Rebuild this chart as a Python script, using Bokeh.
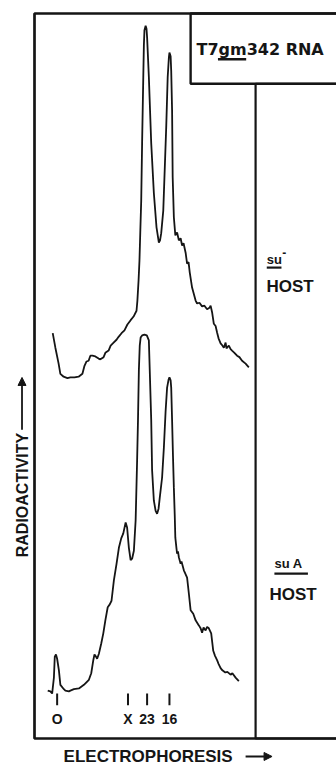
import math
from bokeh.plotting import figure
from bokeh.models import Range1d, Label, BoxAnnotation, Arrow, NormalHead, ColumnDataSource
from bokeh.embed import file_html
from bokeh.resources import INLINE

# ---------------- data (arbitrary units) ----------------
# su- host trace: electrophoretic distance vs radioactivity
su_minus_x = [6.2, 7.1, 8.2, 8.8, 9.9, 11.2, 12.2, 13.6, 15.0, 16.3, 17.0, 17.7, 18.4, 19.0, 19.7,
              20.7, 21.8, 22.4, 23.5, 24.1, 25.2, 25.9, 26.9, 27.9, 28.6, 29.6, 30.6, 31.6, 32.7,
              33.7, 34.7, 35.0, 35.4, 35.7, 36.0, 36.3, 36.6, 37.0, 37.2, 37.4, 37.8, 38.1, 38.3,
              38.9, 39.7, 40.6, 41.5, 42.3, 42.7, 43.1, 43.8, 44.2, 44.8, 45.3, 45.7, 45.9, 46.3,
              46.5, 46.8, 47.0, 47.4, 47.9, 48.5, 49.1, 49.7, 50.2, 50.7, 51.4, 51.9, 52.4, 52.8,
              53.6, 54.8, 55.3, 56.1, 57.0, 57.8, 58.7, 59.5, 59.9, 60.4, 61.0, 61.6, 62.1, 62.6,
              63.3, 63.9, 64.4, 65.0, 65.3, 66.1, 66.7, 67.2, 68.0, 68.9, 69.7, 70.6, 71.8, 72.9]
su_minus_y = [55.9, 53.9, 51.7, 50.3, 49.9, 49.7, 49.8, 49.8, 49.9, 50.3, 51.4, 52.0, 52.1, 52.8, 52.8,
              52.7, 52.4, 52.3, 52.6, 53.2, 53.5, 54.2, 54.6, 55.0, 55.4, 55.9, 56.3, 57.1, 57.7,
              58.2, 59.0, 60.4, 63.2, 65.9, 70.1, 74.2, 82.1, 91.2, 95.6, 97.7, 98.3, 97.9, 96.7,
              91.2, 82.1, 75.2, 70.5, 68.4, 68.7, 69.7, 72.8, 77.4, 84.3, 91.2, 93.9, 94.6, 94.1,
              92.1, 86.6, 77.4, 71.9, 69.4, 69.8, 68.7, 69.0, 68.0, 68.3, 67.0, 65.5, 65.7, 64.3,
              62.2, 60.4, 60.0, 60.1, 59.6, 59.7, 59.2, 59.4, 59.7, 58.8, 57.2, 56.9, 56.0, 55.2,
              54.5, 54.2, 53.9, 54.6, 53.8, 54.2, 53.7, 53.5, 53.2, 52.8, 52.6, 52.1, 51.7, 51.2]

# suA host trace
su_a_x = [4.5, 5.4, 6.0, 6.6, 6.9, 7.3, 7.7, 8.3, 8.8, 10.0, 10.5, 11.7, 12.2, 13.4, 15.1, 16.8,
          18.5, 19.3, 20.0, 20.4, 20.9, 21.3, 21.9, 22.7, 23.4, 24.1, 24.9, 25.6, 26.2, 27.0, 27.9,
          28.7, 29.5, 30.2, 31.0, 31.5, 32.1, 32.7, 33.2, 33.8, 34.4, 34.9, 35.2, 35.5, 35.8, 36.1,
          36.6, 37.4, 38.2, 38.9, 39.2, 39.7, 40.0, 40.6, 41.2, 41.7, 42.2, 42.6, 43.4, 44.0, 44.6,
          45.1, 45.6, 45.9, 46.3, 46.5, 46.8, 47.1, 47.4, 47.7, 47.9, 48.3, 48.5, 48.8, 49.1, 49.7,
          50.0, 50.8, 51.9, 52.2, 52.5, 53.1, 54.0, 54.8, 55.9, 56.5, 57.0, 57.5, 58.2, 58.7, 59.3,
          60.1, 60.8, 61.4, 62.1, 62.6, 63.3, 63.9, 64.9, 65.6, 66.7, 67.3, 68.4, 69.5]
su_a_y = [6.6, 6.5, 6.2, 8.4, 11.3, 11.6, 11.0, 9.4, 7.4, 6.8, 6.6, 6.5, 6.6, 6.8, 6.9, 7.4,
          8.1, 9.0, 10.8, 11.6, 11.3, 11.0, 11.7, 13.1, 14.5, 16.3, 18.1, 18.5, 19.0, 21.8, 24.1,
          26.3, 27.6, 28.3, 29.8, 29.1, 26.3, 24.6, 24.8, 25.9, 30.1, 38.3, 43.9, 50.8, 54.2, 55.3,
          55.6, 55.7, 55.6, 54.9, 50.8, 43.9, 37.0, 32.8, 31.4, 31.0, 31.7, 33.2, 36.0, 40.1, 45.2,
          48.4, 49.5, 49.8, 49.4, 48.4, 43.9, 39.0, 34.6, 30.8, 27.7, 26.2, 25.5, 25.8, 25.0, 24.1,
          24.4, 23.2, 22.2, 21.1, 20.0, 17.7, 17.2, 16.3, 15.6, 15.2, 14.6, 15.3, 14.9, 15.4, 15.2,
          14.5, 12.1, 11.4, 10.8, 10.3, 9.7, 9.4, 9.1, 9.2, 8.8, 9.0, 8.4, 7.9]

# marker positions (origin, X, 23S, 16S)
marker_labels = ["O", "X", "23", "16"]
marker_x = [7.7, 31.8, 38.3, 45.9]

# ---------------- layout constants ----------------
DIVIDER_X = 75.2
TITLE_LEFT = 53.1
TITLE_BOTTOM = 90.3
INK = "#151515"

p = figure(width=336, height=765, x_range=Range1d(-11.565, 102.72),
           y_range=Range1d(-3.724, 101.79),
           output_backend="svg", toolbar_location=None,
           x_axis_location=None, y_axis_location=None,
           min_border=0)
p.outline_line_color = None
p.xgrid.visible = False
p.ygrid.visible = False
p.background_fill_color = "white"
p.border_fill_color = "white"

def box(**kw):
    b = BoxAnnotation(fill_alpha=0, line_color=INK, line_alpha=1, **kw)
    p.add_layout(b)

# main frame (left, top, bottom), right-hand panel divider and title box
box(left=0, right=200, bottom=0, top=100, line_width=2.7)
box(left=DIVIDER_X, right=200, bottom=0, top=TITLE_BOTTOM, line_width=2.2)
box(left=TITLE_LEFT, right=200, bottom=TITLE_BOTTOM, top=100, line_width=2.4)

# traces
p.line(su_minus_x, su_minus_y, line_color=INK, line_width=1.8)
p.line(su_a_x, su_a_y, line_color=INK, line_width=1.8)

# marker ticks and labels
msrc = ColumnDataSource(dict(x=marker_x, lab=marker_labels,
                             y0=[4.6] * len(marker_x), y1=[6.2] * len(marker_x),
                             ly=[2.7] * len(marker_x)))
p.segment(x0="x", y0="y0", x1="x", y1="y1", source=msrc, line_color=INK, line_width=2)
p.text(x="x", y="ly", text="lab", source=msrc, text_align="center", text_baseline="middle",
       text_font_size="14px", text_font_style="bold", text_color=INK,
       text_font={"value": "Liberation Sans"})

def lab(text, x, y, size, font="Liberation Sans", align="left", angle=0):
    p.add_layout(Label(x=x, y=y, text=text, text_font_size=size, text_font=font,
                       text_font_style="bold", text_color=INK, text_align=align,
                       text_baseline="middle", angle=angle))

def bar(left, right, bottom, top):
    p.add_layout(BoxAnnotation(left=left, right=right, bottom=bottom, top=top,
                               fill_color=INK, fill_alpha=1, line_alpha=0))

# title
lab("T7gm342  RNA", 55.1, 95.03, "16px", font="DejaVu Sans")
bar(62.4, 72.0, 93.5, 93.85)

# host labels
lab("su", 79.0, 66.1, "13px")
bar(79.0, 84.0, 64.8, 65.1)
lab("-", 84.3, 67.0, "12px")
lab("HOST", 78.9, 62.34, "17px")

lab("su A", 81.6, 24.2, "13px")
bar(81.6, 93.0, 22.6, 22.9)
lab("HOST", 79.9, 19.93, "17px")

# axis titles
lab("RADIOACTIVITY", -4.25, 25.0, "16px", align="left", angle=math.pi / 2)
p.add_layout(Arrow(x_start=-4.25, y_start=42.6, x_end=-4.25, y_end=49.8, line_color=INK,
                   line_width=1.8, end=NormalHead(size=8, fill_color=INK, line_color=INK)))
lab("ELECTROPHORESIS", 9.9, -2.48, "17px")
p.add_layout(Arrow(x_start=71.8, y_start=-2.48, x_end=80.8, y_end=-2.48, line_color=INK,
                   line_width=2, end=NormalHead(size=8, fill_color=INK, line_color=INK)))

open("out.html", "w").write(file_html(p, INLINE))
